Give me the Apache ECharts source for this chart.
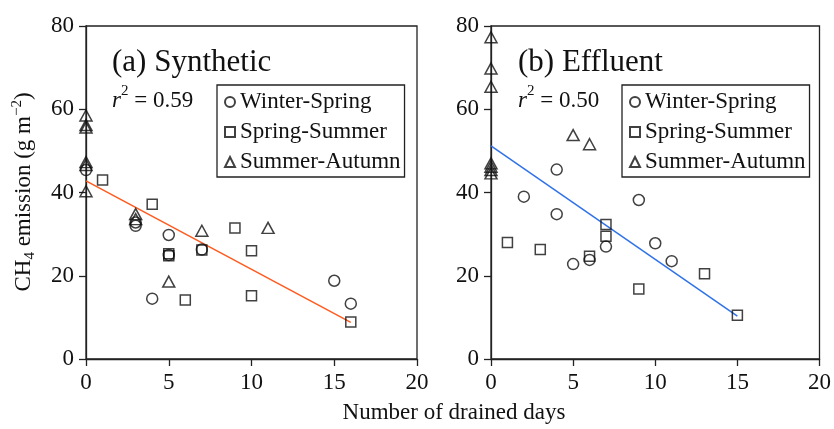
<!DOCTYPE html>
<html>
<head>
<meta charset="utf-8">
<script src="https://cdn.jsdelivr.net/npm/echarts@6/dist/echarts.min.js"></script>
<style>html,body{margin:0;padding:0;background:#fff}#c{width:834px;height:429px}</style>
</head>
<body>
<div id="c"></div>
<script>
// ---- data ----
var seriesNames = ['Winter-Spring', 'Spring-Summer', 'Summer-Autumn'];
var xTicks = [0, 5, 10, 15, 20];
var yTicks = [0, 20, 40, 60, 80];

var synWinterSpring = [[0,45.4],[3,32.8],[3,32.0],[4,14.5],[5,29.8],[5,25.0],[7,26.3],[15,18.8],[16,13.3]];
var synSpringSummer = [[1,43.0],[4,37.2],[5,25.3],[5,24.8],[6,14.2],[7,26.2],[9,31.5],[10,26.0],[10,15.2],[16,8.9]];
var synSummerAutumn = [[0,58.5],[0,56.2],[0,55.6],[0,47.3],[0,46.6],[0,40.3],[3,34.8],[3,33.6],[5,18.6],[7,30.8],[11,31.5]];
var synFit = [[0,42.8],[16,8.8]];

var effWinterSpring = [[2,39.0],[4,45.5],[4,34.8],[5,22.8],[6,23.8],[7,27.0],[9,38.2],[10,27.8],[11,23.5]];
var effSpringSummer = [[1,28.0],[3,26.3],[6,24.7],[7,32.3],[7,29.5],[9,16.8],[13,20.5],[15,10.5]];
var effSummerAutumn = [[0,77.3],[0,69.8],[0,65.4],[0,47.0],[0,46.2],[0,45.4],[0,44.6],[5,53.8],[6,51.6]];
var effFit = [[0,51.2],[15,10.3]];

var panelTitles = ['(a) Synthetic', '(b) Effluent'];
var r2Values = ['0.59', '0.50'];

// ---- chart ----
var FONT = 'Liberation Serif';
var INK = '#111';
var chart = echarts.init(document.getElementById('c'), null, {renderer: 'canvas'});

function xAxisFor(idx) {
  return {
    gridIndex: idx, type: 'value', min: xTicks[0], max: xTicks[xTicks.length-1], interval: xTicks[1]-xTicks[0],
    axisLine: {show: true, onZero: false, lineStyle: {color: '#222', width: 1.3}},
    axisTick: {show: true, inside: false, length: 7, lineStyle: {color: '#222', width: 1.3}},
    axisLabel: {fontFamily: FONT, fontSize: 23, color: INK, margin: 12},
    splitLine: {show: false}
  };
}
function yAxisFor(idx) {
  return {
    gridIndex: idx, type: 'value', min: yTicks[0], max: yTicks[yTicks.length-1], interval: yTicks[1]-yTicks[0],
    axisLine: {show: true, onZero: false, lineStyle: {color: '#222', width: 1.3}},
    axisTick: {show: true, inside: false, length: 7, lineStyle: {color: '#222', width: 1.3}},
    axisLabel: {fontFamily: FONT, fontSize: 23, color: INK, margin: 12},
    splitLine: {show: false}
  };
}
var markerStyle = {color: 'rgba(0,0,0,0)', borderColor: '#111', borderWidth: 1.5};
function scatter(name, data, idx, symbol, size) {
  return {
    type: 'scatter', name: name, data: data, xAxisIndex: idx, yAxisIndex: idx,
    symbol: symbol, symbolSize: size, clip: false, itemStyle: markerStyle, z: 3,
    emphasis: {disabled: true}
  };
}
function fitLine(name, data, idx, color) {
  return {
    type: 'line', name: name, data: data, xAxisIndex: idx, yAxisIndex: idx,
    symbol: 'none', lineStyle: {color: color, width: 1.5}, z: 2, silent: true
  };
}
function legendFor(left) {
  return {
    orient: 'vertical', left: left, top: 85,
    padding: [5, 4, 3, 7], itemGap: 6, itemWidth: 10, itemHeight: 10, itemTextGap: 4,
    borderColor: '#222', borderWidth: 1.3, selectedMode: false,
    textStyle: {fontFamily: FONT, fontSize: 23, color: INK, lineHeight: 24},
    data: [
      {name: seriesNames[0], icon: 'circle'},
      {name: seriesNames[1], icon: 'rect'},
      {name: seriesNames[2], icon: 'triangle'}
    ]
  };
}
var richR2 = {
  i: {fontFamily: FONT, fontSize: 23, fontStyle: 'italic', fill: INK, lineHeight: 28, verticalAlign: 'bottom'},
  sup: {fontFamily: FONT, fontSize: 15, fill: INK, lineHeight: 28, verticalAlign: 'top'},
  n: {fontFamily: FONT, fontSize: 23, fill: INK, lineHeight: 28, verticalAlign: 'bottom'}
};
function r2Text(x, val) {
  return {
    type: 'text', left: x, top: 84,
    style: {text: '{i|r}{sup|2}{n| = ' + val + '}', rich: richR2, fill: INK}
  };
}

var option = {
  backgroundColor: '#fff',
  animation: false,
  grid: [
    {left: 86, top: 26, width: 331, height: 333, show: true, borderColor: '#222', borderWidth: 1.3, containLabel: false},
    {left: 491, top: 26, width: 331, height: 333, show: true, borderColor: '#222', borderWidth: 1.3, containLabel: false}
  ],
  xAxis: [xAxisFor(0), xAxisFor(1)],
  yAxis: [yAxisFor(0), yAxisFor(1)],
  legend: [legendFor(217), legendFor(622)],
  series: [
    fitLine('fitA', synFit, 0, '#ff5a1e'),
    scatter(seriesNames[0], synWinterSpring, 0, 'circle', 11),
    scatter(seriesNames[1], synSpringSummer, 0, 'rect', 10),
    scatter(seriesNames[2], synSummerAutumn, 0, 'triangle', [12, 11]),
    fitLine('fitB', effFit, 1, '#2f72e8'),
    scatter(seriesNames[0], effWinterSpring, 1, 'circle', 11),
    scatter(seriesNames[1], effSpringSummer, 1, 'rect', 10),
    scatter(seriesNames[2], effSummerAutumn, 1, 'triangle', [12, 11])
  ],
  graphic: [
    {type: 'text', left: 112, top: 47, style: {text: panelTitles[0], fontFamily: FONT, fontSize: 31, fill: INK}},
    {type: 'text', left: 518, top: 47, style: {text: panelTitles[1], fontFamily: FONT, fontSize: 31, fill: INK}},
    r2Text(112, r2Values[0]),
    r2Text(518, r2Values[1]),
    {type: 'text', x: 454, y: 413,
      style: {text: 'Number of drained days', fontFamily: FONT, fontSize: 23, fill: INK, align: 'center', verticalAlign: 'middle'}},
    {type: 'text', x: 24, y: 192, rotation: Math.PI / 2,
      style: {
        text: '{n|CH}{sub|4}{n| emission (g m}{sup|\u22122}{n|)}',
        align: 'center', verticalAlign: 'middle', fill: INK,
        rich: {
          n: {fontFamily: FONT, fontSize: 23, fill: INK, lineHeight: 28, verticalAlign: 'middle'},
          sub: {fontFamily: FONT, fontSize: 15, fill: INK, lineHeight: 28, verticalAlign: 'bottom'},
          sup: {fontFamily: FONT, fontSize: 15, fill: INK, lineHeight: 28, verticalAlign: 'top'}
        }
      }}
  ]
};
chart.setOption(option);
</script>
</body>
</html>
